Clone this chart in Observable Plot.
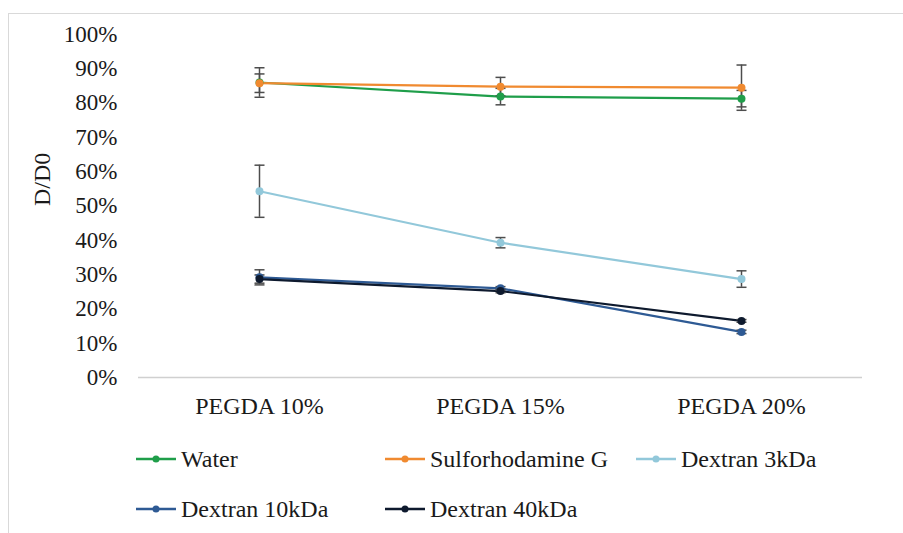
<!DOCTYPE html>
<html>
<head>
<meta charset="utf-8">
<script src="https://cdn.jsdelivr.net/npm/d3@7"></script>
<script src="https://cdn.jsdelivr.net/npm/@observablehq/plot@0.6"></script>
<style>
  html, body { margin: 0; padding: 0; background: #fff; }
  #wrap { position: relative; width: 903px; height: 533px; overflow: hidden; font-family: 'Liberation Serif', 'Times New Roman', serif; }
  #frame { position: absolute; left: 8px; top: 13px; right: -2px; bottom: -2px; border-left: 1.5px solid #d9d9d9; border-top: 1.5px solid #d9d9d9; }
  #chart { position: absolute; left: 0; top: 0; }
  .leg { position: absolute; display: flex; align-items: center; height: 30px; font-size: 24px; color: #1a1a1a; white-space: nowrap; }
  .leg svg { margin-right: 5px; }
</style>
</head>
<body>
<div id="wrap">
  <div id="frame"></div>
  <div id="chart"></div>
  <div id="legend"></div>
</div>
<script>
const categories = ["PEGDA 10%", "PEGDA 15%", "PEGDA 20%"];
const seriesNames = ["Water", "Sulforhodamine G", "Dextran 3kDa", "Dextran 10kDa", "Dextran 40kDa"];
const seriesColors = ["#1f9e4a", "#f08a30", "#92c8da", "#2e5a94", "#0e1a2e"];
const water = [0.860, 0.819, 0.813];
const waterErr = [0.043, 0.024, 0.024];
const sulforhodamine = [0.858, 0.848, 0.845];
const sulforhodamineErr = [0.027, 0.027, 0.066];
const dextran3 = [0.543, 0.393, 0.287];
const dextran3Err = [0.076, 0.015, 0.024];
const dextran10 = [0.292, 0.260, 0.133];
const dextran10Err = [0.022, 0.005, 0.005];
const dextran40 = [0.287, 0.252, 0.165];
const dextran40Err = [0.012, 0.005, 0.004];
const yTicks = [0, 0.1, 0.2, 0.3, 0.4, 0.5, 0.6, 0.7, 0.8, 0.9, 1.0];

const values = [water, sulforhodamine, dextran3, dextran10, dextran40];
const errors = [waterErr, sulforhodamineErr, dextran3Err, dextran10Err, dextran40Err];
const data = [];
seriesNames.forEach((s, si) => categories.forEach((c, ci) => {
  data.push({series: s, cat: c, v: values[si][ci], lo: values[si][ci] - errors[si][ci], hi: values[si][ci] + errors[si][ci]});
}));

const capSymbol = { draw(ctx, size) { const w = Math.sqrt(size / Math.PI); ctx.moveTo(-w, 0); ctx.lineTo(w, 0); } };

const chart = Plot.plot({
  width: 903,
  height: 440,
  marginLeft: 138,
  marginRight: 41,
  marginTop: 34,
  marginBottom: 63,
  style: { fontFamily: "'Liberation Serif', 'Times New Roman', serif", fontSize: "23px", color: "#1a1a1a", background: "transparent" },
  x: { type: "point", domain: categories, padding: 0.5, label: null },
  y: { domain: [0, 1], label: null },
  color: { domain: seriesNames, range: seriesColors },
  marks: [
    Plot.ruleY([0], { stroke: "#d0d0d0", strokeWidth: 1.5 }),
    Plot.axisY({ ticks: yTicks, tickFormat: d3.format(".0%"), tickSize: 0, tickPadding: 21, label: null, fontSize: 23 }),
    Plot.axisX({ tickSize: 0, tickPadding: 19, label: null, fontSize: 24 }),
    Plot.text(["D/D0"], { frameAnchor: "left", rotate: -90, dx: -96, fontSize: 24 }),
    Plot.line(data, { x: "cat", y: "v", z: "series", stroke: "series", strokeWidth: 2.2 }),
    Plot.ruleX(data, { x: "cat", y1: "lo", y2: "hi", stroke: "#4d4d4d", strokeWidth: 1.5 }),
    Plot.dot(data, { x: "cat", y: "lo", symbol: capSymbol, r: 5, stroke: "#4d4d4d", strokeWidth: 1.5 }),
    Plot.dot(data, { x: "cat", y: "hi", symbol: capSymbol, r: 5, stroke: "#4d4d4d", strokeWidth: 1.5 }),
    Plot.dot(data, { x: "cat", y: "v", fill: "series", r: 4 })
  ]
});
document.getElementById("chart").appendChild(chart);

const legendPos = [[136, 444], [385, 444], [636, 444], [136, 494], [385, 494]];
const legend = document.getElementById("legend");
seriesNames.forEach((s, i) => {
  const d = document.createElement("div");
  d.className = "leg";
  d.style.left = legendPos[i][0] + "px";
  d.style.top = legendPos[i][1] + "px";
  d.innerHTML = `<svg width="40" height="12"><line x1="0" y1="6" x2="40" y2="6" stroke="${seriesColors[i]}" stroke-width="2.5"/><circle cx="20" cy="6" r="3.5" fill="${seriesColors[i]}"/></svg><span>${s}</span>`;
  legend.appendChild(d);
});
</script>
</body>
</html>
